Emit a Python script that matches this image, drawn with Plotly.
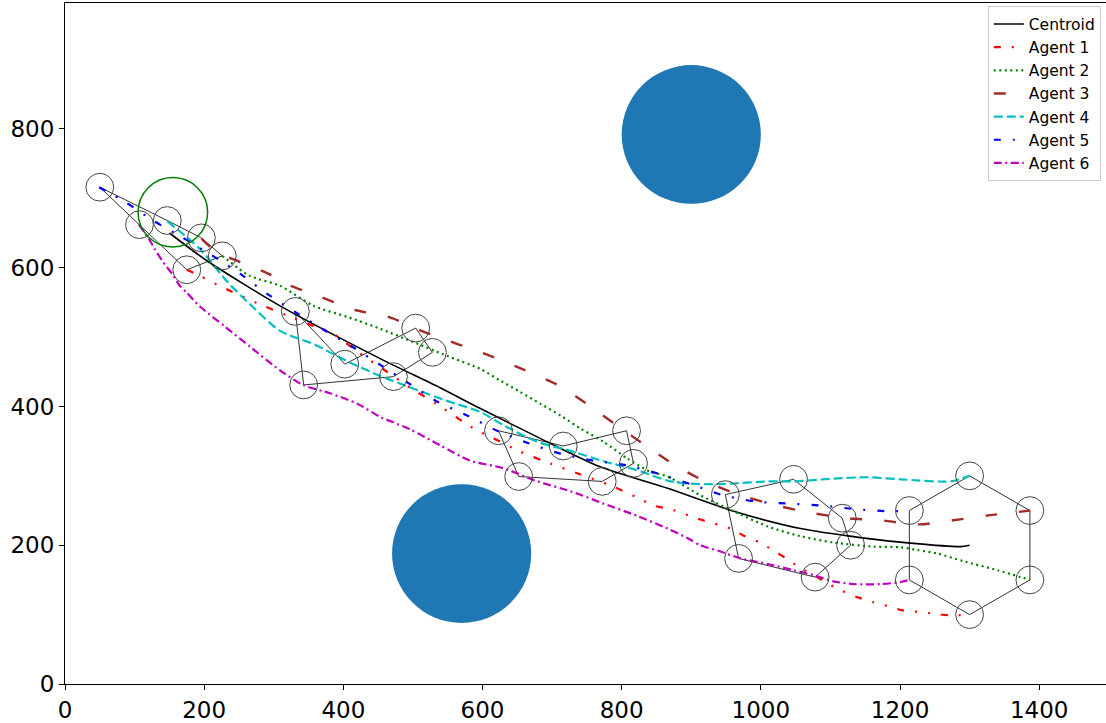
import plotly.graph_objects as go

# Trajectories (world coordinates)
centroid_x = [150, 204, 309, 453, 539, 597, 683, 769, 866, 961, 1057, 1143, 1215, 1287, 1300]
centroid_y = [650, 610, 545, 469, 427, 397, 354, 313, 282, 249, 224, 211, 203, 198, 200]

agent1_x = [175, 194, 230, 276, 319, 357, 384, 420, 457, 496, 535, 572, 593, 614, 654, 697, 741, 784,
            824, 846, 870, 913, 956, 975, 998, 1017, 1038, 1057, 1076, 1096, 1117, 1139, 1161, 1184,
            1204, 1227, 1251, 1273, 1300]
agent1_y = [597, 588, 570, 549, 531, 516, 506, 479, 454, 427, 403, 378, 365, 355, 335, 318, 302, 286,
            268, 257, 252, 237, 224, 214, 204, 193, 180, 167, 157, 145, 134, 125, 118, 112,
            106, 104, 101, 99, 100]

agent2_x = [226, 266, 309, 357, 406, 453, 500, 549, 597, 626, 654, 683, 712, 741, 774, 808, 841, 866,
            913, 961, 1010, 1057, 1104, 1162, 1201, 1225, 1254, 1291, 1340, 1387]
agent2_y = [617, 588, 574, 545, 529, 512, 493, 473, 454, 437, 421, 404, 387, 368, 349, 325, 306, 299,
            272, 249, 227, 213, 204, 198, 197, 193, 188, 177, 164, 150]

agent3_x = [196, 216, 252, 295, 319, 367, 417, 465, 515, 564, 611, 659, 708, 751, 794, 834, 877, 920,
            971, 1024, 1071, 1122, 1172, 1225, 1277, 1327, 1387]
agent3_y = [642, 624, 608, 590, 576, 558, 539, 529, 508, 490, 473, 453, 431, 403, 372, 344, 315, 292,
            272, 257, 247, 239, 236, 230, 236, 243, 250]

agent4_x = [147, 194, 233, 262, 309, 357, 406, 453, 500, 549, 597, 630, 679, 726, 774, 823, 870, 913,
            961, 1010, 1047, 1104, 1153, 1201, 1273, 1300]
agent4_y = [667, 627, 580, 551, 509, 490, 465, 444, 426, 408, 392, 373, 349, 336, 321, 308, 292, 288,
            289, 292, 292, 296, 298, 295, 292, 300]

agent5_x = [49, 86, 128, 168, 211, 252, 291, 331, 371, 413, 453, 493, 535, 578, 621, 666, 712, 759,
            808, 853, 899, 946, 992, 1040, 1089, 1136, 1184, 1213]
agent5_y = [716, 695, 667, 644, 618, 591, 562, 536, 511, 486, 460, 434, 407, 387, 365, 347, 332, 322,
            315, 303, 288, 272, 263, 260, 257, 252, 249, 250]

agent6_x = [106, 119, 129, 141, 154, 165, 175, 194, 230, 266, 309, 342, 381, 420, 453, 496, 539, 582,
            630, 679, 726, 774, 823, 866, 895, 913, 942, 971, 1010, 1047, 1076, 1104, 1133, 1172,
            1201, 1213]
agent6_y = [662, 644, 627, 608, 591, 574, 564, 544, 515, 486, 452, 431, 419, 404, 385, 367, 344, 322,
            311, 292, 278, 260, 242, 224, 210, 200, 191, 181, 173, 164, 157, 148, 144, 144,
            147, 150]

# Formation snapshots: agent positions 1..6 at selected instants
snap_x = [
    [175, 226, 196, 147, 50, 107],
    [472, 528, 504, 402, 331, 343],
    [772, 817, 807, 716, 623, 652],
    [1078, 1129, 1117, 1047, 949, 968],
    [1300, 1386.6, 1386.6, 1300, 1213.4, 1213.4],
]
snap_y = [
    [597, 617, 643, 668, 716, 662],
    [443, 478, 513, 461, 537, 431],
    [292, 318, 365, 343, 365, 299],
    [154, 200, 239, 295, 273, 181],
    [100, 150, 250, 300, 250, 150],
]
agent_radius = 20

# Obstacles and goal marker
obstacle_x = [900, 570]
obstacle_y = [792, 188]
obstacle_r = [100, 100]
goal_x, goal_y, goal_r = 155, 680, 50

x_ticks = [0, 200, 400, 600, 800, 1000, 1200, 1400]
y_ticks = [0, 200, 400, 600, 800]

series = [
    ("Centroid", centroid_x, centroid_y, "black", "solid", 1.6),
    ("Agent 1", agent1_x, agent1_y, "#ff0000", "7px,11px,2px,11px,2px,11px", 2.2),
    ("Agent 2", agent2_x, agent2_y, "#008000", "2px,3.5px", 2.2),
    ("Agent 3", agent3_x, agent3_y, "#a52a2a", "12px,22px", 2.4),
    ("Agent 4", agent4_x, agent4_y, "#00bfbf", "9px,4px", 2.2),
    ("Agent 5", agent5_x, agent5_y, "#0000ff", "7px,12px,2px,12px", 2.2),
    ("Agent 6", agent6_x, agent6_y, "#bf00bf", "8px,3.5px,2px,3.5px", 2.2),
]

fig = go.Figure()

# Formation edges (agent i -> i+1, closing the loop)
for sx, sy in zip(snap_x, snap_y):
    fig.add_trace(go.Scatter(
        x=sx + [sx[0]], y=sy + [sy[0]], mode="lines",
        line=dict(color="#333333", width=1), showlegend=False, hoverinfo="skip",
    ))

for name, xs, ys, color, dash, width in series:
    fig.add_trace(go.Scatter(
        x=xs, y=ys, mode="lines", name=name,
        line=dict(color=color, dash=dash, width=width, shape="spline", smoothing=0.7),
    ))

shapes = []
for cx, cy, r in zip(obstacle_x, obstacle_y, obstacle_r):
    shapes.append(dict(type="circle", xref="x", yref="y",
                       x0=cx - r, x1=cx + r, y0=cy - r, y1=cy + r,
                       fillcolor="#1f77b4", line=dict(width=0), layer="below"))
shapes.append(dict(type="circle", xref="x", yref="y",
                   x0=goal_x - goal_r, x1=goal_x + goal_r,
                   y0=goal_y - goal_r, y1=goal_y + goal_r,
                   line=dict(color="#008000", width=1.5), layer="above"))
for sx, sy in zip(snap_x, snap_y):
    for cx, cy in zip(sx, sy):
        shapes.append(dict(type="circle", xref="x", yref="y",
                           x0=cx - agent_radius, x1=cx + agent_radius,
                           y0=cy - agent_radius, y1=cy + agent_radius,
                           line=dict(color="#444444", width=1), layer="above"))

axis_font = dict(family="DejaVu Sans", size=23, color="black")

fig.update_layout(
    width=1106, height=723,
    margin=dict(l=65, r=0, t=3, b=37),
    paper_bgcolor="white", plot_bgcolor="white",
    shapes=shapes,
    font=dict(family="DejaVu Sans", color="black"),
    xaxis=dict(range=[0, 1496], tickvals=x_ticks, showgrid=False, zeroline=False,
               showline=True, linecolor="black", linewidth=1.1, mirror=True,
               ticks="outside", ticklen=5, tickwidth=1, tickcolor="black",
               tickfont=axis_font),
    yaxis=dict(range=[0, 981.5], tickvals=y_ticks, showgrid=False, zeroline=False,
               showline=True, linecolor="black", linewidth=1.1,
               ticks="outside", ticklen=5, tickwidth=1, tickcolor="black",
               tickfont=axis_font),
    legend=dict(x=0.995, y=0.995, xanchor="right", yanchor="top",
                bgcolor="white", bordercolor="#cccccc", borderwidth=1,
                font=dict(family="DejaVu Sans", size=15.5, color="black"),
                itemwidth=30, tracegroupgap=0),
    showlegend=True,
)

fig.write_html("out.html")
